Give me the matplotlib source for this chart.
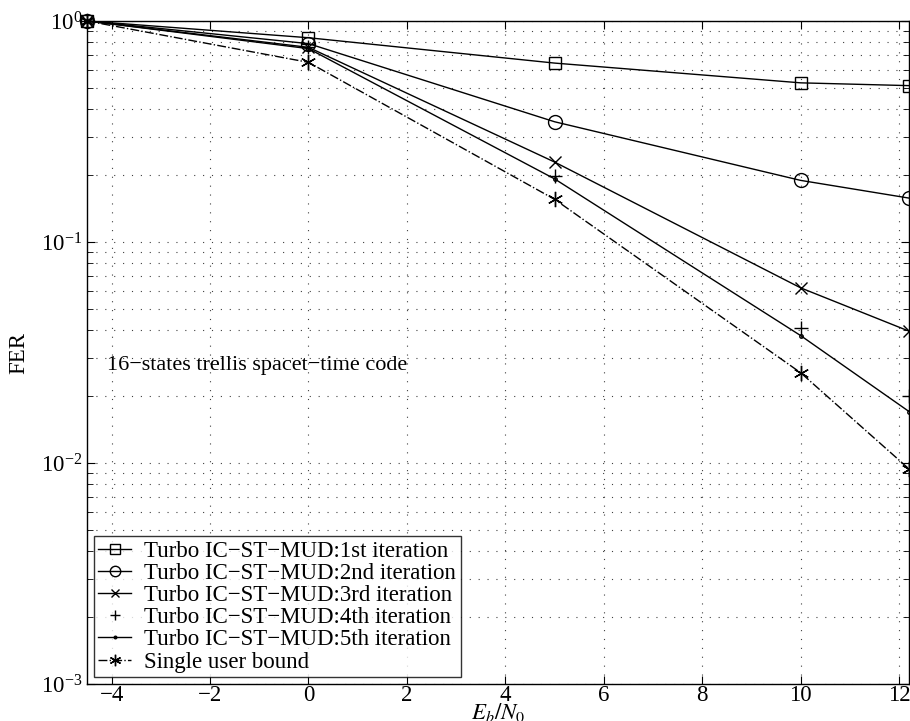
import numpy as np
import matplotlib
matplotlib.use("Agg")
import matplotlib.pyplot as plt
from matplotlib.ticker import LogLocator, NullFormatter

plt.rcParams["font.family"] = ["Liberation Serif", "DejaVu Serif"]
plt.rcParams["mathtext.fontset"] = "stix"

ebn0 = [-4.5, 0, 5, 10, 12.2]
iter1 = [1.0, 0.84, 0.645, 0.525, 0.51]
iter2 = [1.0, 0.79, 0.35, 0.19, 0.158]
iter3 = [1.0, 0.76, 0.23, 0.062, 0.0395]
iter4 = [1.0, 0.76, 0.198, 0.041, 0.020]
iter5 = [1.0, 0.75, 0.193, 0.0377, 0.0171]
single = [1.0, 0.65, 0.156, 0.0256, 0.0094]

labels = [
    "Turbo IC\u2212ST\u2212MUD:1st iteration",
    "Turbo IC\u2212ST\u2212MUD:2nd iteration",
    "Turbo IC\u2212ST\u2212MUD:3rd iteration",
    "Turbo IC\u2212ST\u2212MUD:4th iteration",
    "Turbo IC\u2212ST\u2212MUD:5th iteration",
    "Single user bound",
]

fig = plt.figure(figsize=(9.1, 7.21), dpi=100)
ax = fig.add_axes([87 / 910, 1 - 684 / 721, (909 - 87) / 910, (684 - 21) / 721])

asterisk = (6, 2, 0)
kw = dict(color="black", lw=1.0, mfc="none", mec="black", clip_on=False)
ax.plot(ebn0, iter1, marker="s", ms=9, label=labels[0], **kw)
ax.plot(ebn0, iter2, marker="o", ms=10, label=labels[1], **kw)
ax.plot(ebn0, iter3, marker="x", ms=8, label=labels[2], **kw)
ax.plot(ebn0, iter4, marker="+", ms=10, ls="none", label=labels[3], color="black",
        mew=1.0, clip_on=False)
ax.plot(ebn0, iter5, marker=".", ms=5, label=labels[4], **kw)
ax.plot(ebn0, single, marker=asterisk, ms=11, ls="-.", label=labels[5], color="black",
        lw=1.0, mew=1.0, clip_on=False)

ax.set_yscale("log")
ax.set_xlim(-4.5, 12.2)
ax.set_ylim(1e-3, 1)
ax.set_xticks([-4, -2, 0, 2, 4, 6, 8, 10, 12])
ax.set_xticklabels(["\u22124", "\u22122", "0", "2", "4", "6", "8", "10", "12"])
ax.yaxis.set_minor_locator(LogLocator(base=10, subs=np.arange(2, 10)))
ax.yaxis.set_minor_formatter(NullFormatter())

grid_kw = dict(ls=(0, (1, 7)), color="0.25", lw=0.8)
ax.grid(True, which="major", **grid_kw)
ax.grid(True, which="minor", axis="y", **grid_kw)
ax.tick_params(which="both", direction="in", top=True, right=True, labelsize=16.5)
ax.tick_params(axis="x", pad=1)
ax.tick_params(which="major", length=6)
ax.tick_params(which="minor", length=4)
for s in ax.spines.values():
    s.set_linewidth(1.0)

ax.set_xlabel("$E_b/N_0$", fontsize=16.5, labelpad=-4)
ax.set_ylabel("FER", fontsize=16.5, labelpad=8)

ax.text(-4.1, 0.0275, "16\u2212states trellis spacet\u2212time code", fontsize=16,
        va="center", ha="left")

leg = ax.legend(loc="lower left", fontsize=16.5, frameon=True, fancybox=False,
                edgecolor="black", borderpad=0.2, labelspacing=0.05,
                handlelength=1.4, handletextpad=0.6, borderaxespad=0.3,
                markerscale=0.75)
leg.get_frame().set_linewidth(1.0)

fig.savefig("out.png", dpi=100)
